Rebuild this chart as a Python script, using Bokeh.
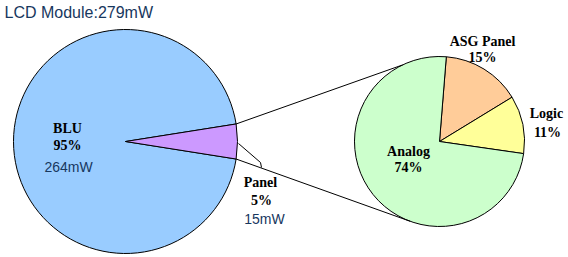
import numpy as np
from bokeh.plotting import figure
from bokeh.models import Range1d
from bokeh.core.properties import value
from bokeh.embed import file_html
from bokeh.resources import INLINE

# ---- data ----
title_text = "LCD Module:279mW"
main_labels = ["BLU", "Panel"]
main_pct = [95, 5]
main_mw = ["264mW", "15mW"]
main_colors = ["#99CCFF", "#CC99FF"]

sub_labels = ["ASG Panel", "Logic", "Analog"]
sub_pct = [15, 11, 74]
sub_colors = ["#FFCC99", "#FFFF99", "#CCFFCC"]

W, H = 568, 257
p = figure(width=W, height=H, output_backend="svg", toolbar_location=None,
           x_range=Range1d(0, W), y_range=Range1d(0, H), min_border=0)
p.axis.visible = False
p.grid.visible = False
p.outline_line_color = None
p.background_fill_color = "white"

def py(y):
    return H - y

# big pie
bc_x, bc_y, br = 125, py(141), 112
panel_frac = main_pct[1] / sum(main_pct)
half = np.pi * panel_frac  # panel slice centred on 0 rad
starts_big = [half, -half]
ends_big = [2 * np.pi - half, half]
p.wedge(x=bc_x, y=bc_y, radius=br, start_angle=starts_big, end_angle=ends_big,
        fill_color=main_colors, line_color="black", line_width=1)

# small pie: clockwise from top boundary
sc_x, sc_y, sr = 439, py(141), 85
top = np.deg2rad(85.4)
fr = np.array(sub_pct) / sum(sub_pct)
cum = np.concatenate([[0], np.cumsum(fr)]) * 2 * np.pi
s_ends = top - cum[:-1]
s_starts = top - cum[1:]
p.wedge(x=sc_x, y=sc_y, radius=sr, start_angle=list(s_starts), end_angle=list(s_ends),
        fill_color=sub_colors, line_color="black", line_width=1)

# connector lines
a_up, a_dn = np.deg2rad(115.7), np.deg2rad(249.8)
p.line([bc_x + br * np.cos(half), sc_x + sr * np.cos(a_up)],
       [bc_y + br * np.sin(half), sc_y + sr * np.sin(a_up)], line_color="black", line_width=1)
p.line([bc_x + br * np.cos(-half), sc_x + sr * np.cos(a_dn)],
       [bc_y + br * np.sin(-half), sc_y + sr * np.sin(a_dn)], line_color="black", line_width=1)

# leader for Panel label
p.line([bc_x + br + 1, 260, 261], [py(143), py(162), py(167)], line_color="black", line_width=1)

serif = value("Liberation Serif")
sans = value("Liberation Sans")
blue = "#17375E"

p.text(x=[4], y=[py(12)], text=[title_text], text_font=sans, text_font_size="16px",
       text_color=blue, text_baseline="middle", text_align="left")

def lab(x, y, t):
    p.text(x=[x], y=[py(y)], text=[t], text_font=serif, text_font_style="bold",
           text_font_size="14px", text_color="black", text_baseline="middle", text_align="center")

lab(67, 128, main_labels[0]); lab(67, 145, f"{main_pct[0]}%")
p.text(x=[68], y=[py(166)], text=[main_mw[0]], text_font=sans, text_font_size="14px",
       text_color=blue, text_baseline="middle", text_align="center")
lab(260, 182, main_labels[1]); lab(261, 200, f"{main_pct[1]}%")
p.text(x=[264], y=[py(218)], text=[main_mw[1]], text_font=sans, text_font_size="14px",
       text_color=blue, text_baseline="middle", text_align="center")

lab(482, 41, sub_labels[0]); lab(482, 57, f"{sub_pct[0]}%")
lab(546, 113, sub_labels[1]); lab(547, 132, f"{sub_pct[1]}%")
lab(408, 151, sub_labels[2]); lab(408, 167, f"{sub_pct[2]}%")

open("out.html", "w").write(file_html(p, INLINE))
